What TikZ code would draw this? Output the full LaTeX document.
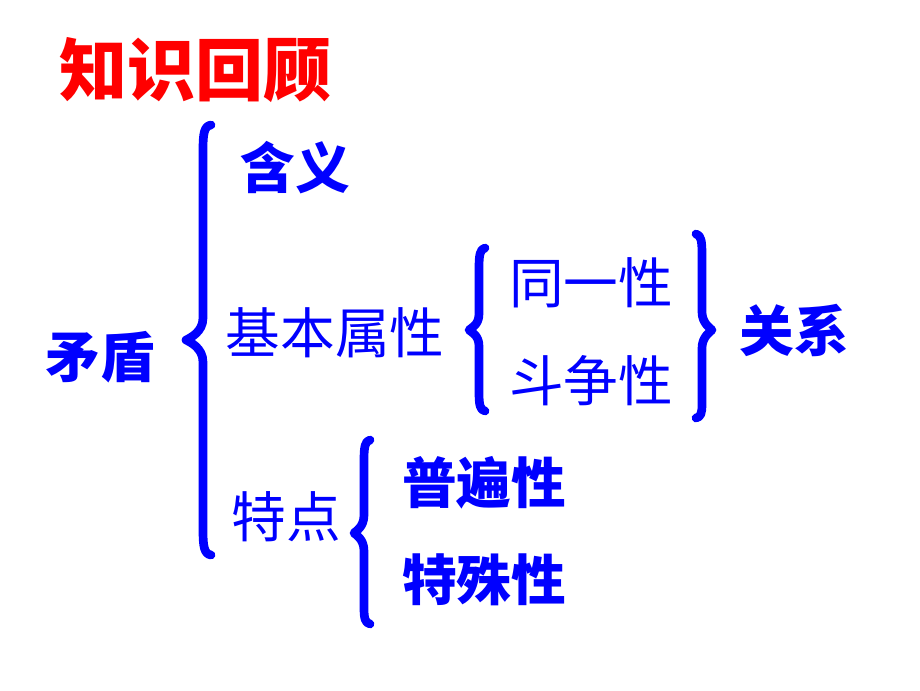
\documentclass[tikz,border=0pt]{standalone}
\usepackage{fontspec}
\newfontfamily\cjk{Noto Sans CJK SC}
\definecolor{pblue}{RGB}{0,0,255}
\definecolor{pred}{RGB}{255,0,0}
\tikzset{
  lbl/.style={inner sep=0pt, text=pblue, font=\cjk\fontsize{41}{41}\selectfont},
  blbl/.style={lbl, font=\cjk\bfseries\fontsize{41}{41}\selectfont},
  brace/.style={draw=pblue, line width=6.5pt, line cap=round, line join=round}
}
\begin{document}
\begin{tikzpicture}[x=0.75pt,y=-0.75pt]
\useasboundingbox (0,0) rectangle (920,690);
\fill[white] (0,0) rectangle (920,690);
\node[blbl, text=pred, font=\cjk\bfseries\fontsize{51}{51}\selectfont] (title) at (195,70) {知识回顾};
\node[blbl] (md) at (100,357) {矛盾};
\node[blbl] (hy) at (295,168) {含义};
\node[lbl] (jb) at (335,333) {基本属性};
\node[lbl] (ty) at (591,283) {同一性};
\node[lbl] (dz) at (591,381) {斗争性};
\node[blbl] (gx) at (794,330) {关系};
\node[lbl] (td) at (286,517) {特点};
\node[blbl] (pb) at (484,483) {普遍性};
\node[blbl] (ts) at (484,580) {特殊性};
% big brace
\draw[brace] (211,125) .. controls (204,126) and (203,134) .. (203,150) -- (203,318)
  .. controls (203,332) and (190,338) .. (186,340) .. controls (190,342) and (203,348) .. (203,362)
  -- (203,530) .. controls (203,546) and (204,554) .. (211,555);
% middle left brace
\draw[brace] (485,248) .. controls (480,249) and (479,255) .. (479,268) -- (479,314)
  .. controls (479,325) and (471,328) .. (469,330) .. controls (471,332) and (479,335) .. (479,346)
  -- (479,392) .. controls (479,405) and (480,410) .. (485,411);
% right brace
\draw[brace] (696,234) .. controls (701,235) and (702,241) .. (702,254) -- (702,312)
  .. controls (702,323) and (710,328) .. (712,330) .. controls (710,332) and (702,337) .. (702,348)
  -- (702,404) .. controls (702,413) and (701,417) .. (696,418);
% bottom brace
\draw[brace] (370,440) .. controls (365,441) and (364,447) .. (364,460) -- (364,515)
  .. controls (364,527) and (356,531) .. (354,533) .. controls (356,535) and (364,539) .. (364,551)
  -- (364,608) .. controls (364,618) and (365,623) .. (370,624);
\end{tikzpicture}
\end{document}
